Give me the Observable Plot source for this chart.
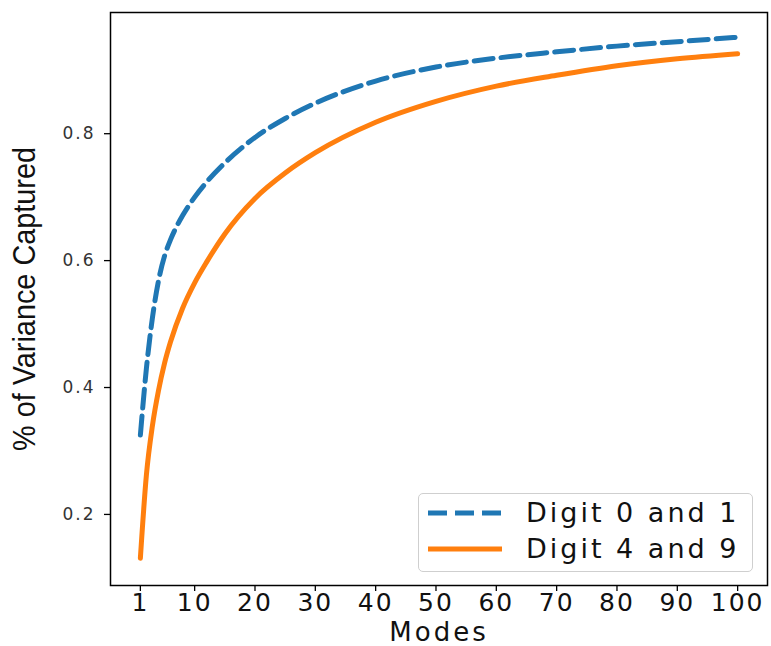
<!DOCTYPE html>
<html>
<head>
<meta charset="utf-8">
<script src="https://cdn.jsdelivr.net/npm/d3@7"></script>
<script src="https://cdn.jsdelivr.net/npm/@observablehq/plot@0.6"></script>
<style>
  html, body { margin: 0; padding: 0; background: white; }
  #wrap { position: relative; width: 771px; height: 646px; overflow: hidden; }
  #legend { position: absolute; left: 418px; top: 493px; width: 335px; height: 79px;
    box-sizing: border-box; border: 1px solid #cfcfcf; border-radius: 5px;
    background: rgba(255,255,255,0.85); }
  .lrow { position: absolute; left: 0; height: 30px; width: 100%; }
  .lrow svg { position: absolute; left: 9px; top: 0; }
  .lrow span { position: absolute; left: 107px; top: 0; line-height: 30px;
    font-family: "DejaVu Sans", sans-serif; font-size: 27px; letter-spacing: 3px; color: #111; white-space: nowrap; }
</style>
</head>
<body>
<div id="wrap"><div id="chart"></div><div id="legend"></div></div>
<script>
const modes   = [1, 2, 3, 4, 5, 6, 8, 10, 12, 15, 20, 25, 30, 40, 50, 60, 70, 80, 90, 100];
const digit01 = [0.325, 0.43, 0.51, 0.568, 0.607, 0.633, 0.671, 0.700, 0.724, 0.754, 0.794, 0.824, 0.848, 0.883, 0.905, 0.919, 0.929, 0.938, 0.945, 0.952];
const digit49 = [0.131, 0.262, 0.34, 0.395, 0.438, 0.472, 0.525, 0.565, 0.598, 0.642, 0.698, 0.738, 0.770, 0.818, 0.851, 0.875, 0.892, 0.907, 0.918, 0.926];
const seriesNames = ["Digit 0 and 1", "Digit 4 and 9"];
const seriesColors = ["#1f77b4", "#ff7f0e"];
const seriesDash = ["19,8", null];
const xTicks = [1, 10, 20, 30, 40, 50, 60, 70, 80, 90, 100];
const yTicks = [0.2, 0.4, 0.6, 0.8];

const seriesValues = [digit01, digit49];
const data = seriesNames.flatMap((name, s) => modes.map((m, i) => ({mode: m, value: seriesValues[s][i], series: name})));

const marks = [
  Plot.axisX({ticks: xTicks, tickSize: 6, tickPadding: 2, fontSize: 25, tickFormat: d => String(d),
    label: "Modes", labelAnchor: "center", labelOffset: 55, labelArrow: false}),
  Plot.axisY({ticks: yTicks, tickSize: 6, tickPadding: 9, fontSize: 17, tickFormat: d => d.toFixed(1),
    label: "% of Variance Captured", labelAnchor: "center", labelOffset: 98, labelArrow: false})
];
seriesNames.forEach((name, s) => {
  marks.push(Plot.line(data.filter(d => d.series === name), {
    x: "mode", y: "value", stroke: seriesColors[s], strokeWidth: 5,
    strokeDasharray: seriesDash[s] || undefined, curve: "monotone-x"
  }));
});
marks.push(Plot.frame({stroke: "black", strokeWidth: 1.5}));

const chart = Plot.plot({
  width: 771, height: 646,
  marginLeft: 110, marginRight: 4, marginTop: 12, marginBottom: 61,
  style: {fontFamily: "DejaVu Sans, sans-serif", background: "white", color: "black"},
  x: {domain: [-3.95, 104.95]},
  y: {domain: [0.088, 0.991]},
  marks
});
document.getElementById("chart").appendChild(chart);

const svg = d3.select(chart);
svg.selectAll('[aria-label="x-axis tick label"] text').style("letter-spacing", "2px").style("fill", "#111");
svg.selectAll('[aria-label="y-axis tick label"] text').style("letter-spacing", "2px").style("fill", "#333");
svg.selectAll('[aria-label="x-axis label"] text').style("font-size", "26px").style("letter-spacing", "3px").style("fill", "#111");
svg.selectAll('[aria-label="y-axis label"] text')
  .style("font-family", '"Liberation Sans", Arial, sans-serif')
  .style("font-size", "32px").style("fill", "#111")
  .attr("textLength", 304).attr("lengthAdjust", "spacingAndGlyphs");
svg.selectAll('[aria-label="x-axis tick"], [aria-label="y-axis tick"]').attr("stroke-width", 1.3);

// legend
const legend = d3.select("#legend");
seriesNames.forEach((name, s) => {
  const row = legend.append("div").attr("class", "lrow").style("top", (4 + s * 36) + "px");
  const sv = row.append("svg").attr("width", 76).attr("height", 30);
  sv.append("line").attr("x1", 0).attr("x2", 74).attr("y1", 15).attr("y2", 15)
    .attr("stroke", seriesColors[s]).attr("stroke-width", 5)
    .attr("stroke-dasharray", seriesDash[s] ? "19,8" : null);
  row.append("span").text(name);
});
</script>
</body>
</html>
